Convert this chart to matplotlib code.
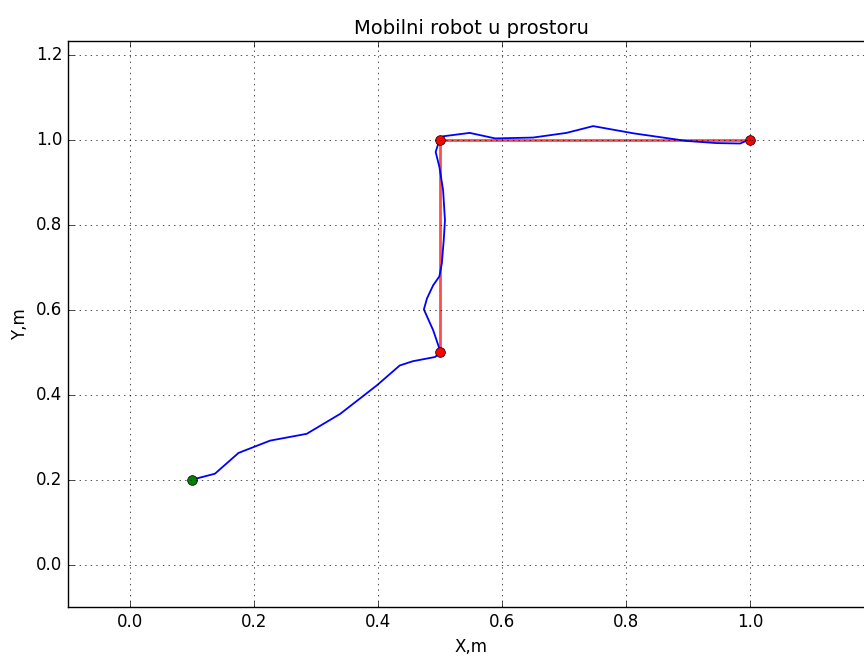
import numpy as np
import matplotlib
matplotlib.use('Agg')
import matplotlib.pyplot as plt

plt.style.use('classic')

# zadane tocke puta
wp_x = [0.5, 0.5, 1.0]
wp_y = [0.5, 1.0, 1.0]

# pocetna pozicija robota
start_x = 0.1
start_y = 0.2

# stvarna putanja robota
path_x = [0.100, 0.137, 0.175, 0.226, 0.285, 0.339, 0.398, 0.435, 0.456, 0.492,
          0.499, 0.499, 0.489, 0.474, 0.479, 0.489, 0.499, 0.503, 0.506, 0.508,
          0.505, 0.499, 0.493, 0.499, 0.505, 0.548, 0.589, 0.650, 0.704, 0.747,
          0.812, 0.898, 0.946, 0.984, 0.997]
path_y = [0.200, 0.214, 0.263, 0.292, 0.308, 0.355, 0.422, 0.469, 0.479, 0.489,
          0.498, 0.509, 0.552, 0.601, 0.627, 0.658, 0.679, 0.710, 0.764, 0.811,
          0.882, 0.937, 0.972, 1.000, 1.009, 1.017, 1.004, 1.006, 1.017, 1.033,
          1.016, 0.998, 0.993, 0.992, 1.000]

fig = plt.figure(figsize=(8.64, 6.57), dpi=100, facecolor='white')
ax = fig.add_axes([68/864., 50/657., 806/864., 566/657.])

ax.plot(wp_x, wp_y, color='r', lw=2, alpha=0.7)
ax.plot(path_x, path_y, color='b', lw=1.3)
ax.plot(wp_x, wp_y, 'ro', ms=7)
ax.plot(start_x, start_y, 'o', color='g', ms=7)

ax.set_xlim(-0.1, 1.2)
ax.set_ylim(-0.1, 1.2335)
ax.set_xticks(np.arange(0.0, 1.01, 0.2))
ax.set_yticks(np.arange(0.0, 1.21, 0.2))
ax.grid(True)
ax.set_title('Mobilni robot u prostoru', fontsize=14)
ax.set_xlabel('X,m')
ax.set_ylabel('Y,m')

fig.savefig('out.png', dpi=100, facecolor='white')
